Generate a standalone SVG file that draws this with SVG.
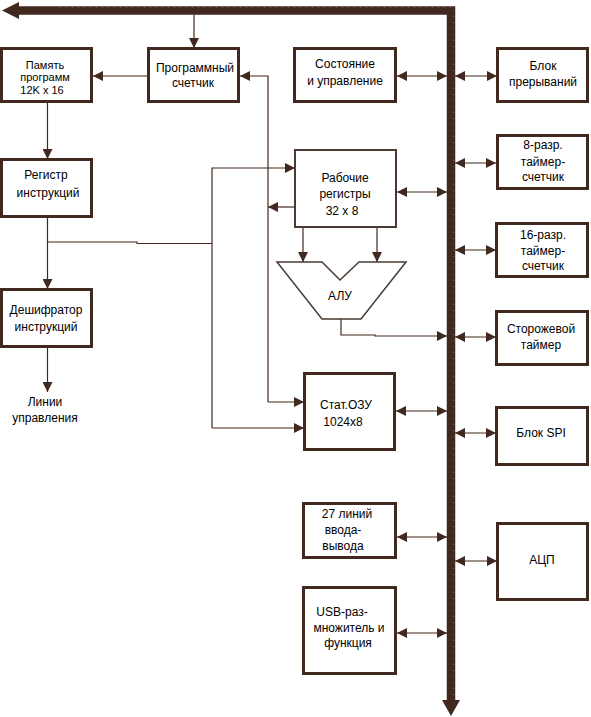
<svg xmlns="http://www.w3.org/2000/svg" width="591" height="717" viewBox="0 0 591 717">
<defs>
<marker id="ah" viewBox="0 0 10 10" refX="10" refY="5" markerWidth="10" markerHeight="10" markerUnits="userSpaceOnUse" orient="auto-start-reverse">
<path d="M0,0 L10,5 L0,10 z" fill="#42291f"/>
</marker>
<style>
.b{fill:#fff;stroke:#42291f;stroke-width:3}
.b2{fill:#fff;stroke:#4a3a33;stroke-width:2}
.t{font-family:"Liberation Sans",Arial,sans-serif;font-size:12px;fill:#000;text-anchor:middle}
.s{font-size:11px}
.c{fill:none;stroke:#42291f;stroke-width:1.2}
.a{marker-end:url(#ah)}
.d{marker-start:url(#ah);marker-end:url(#ah)}
</style>
</defs>
<rect width="591" height="717" fill="#fff"/>
<g id="bus">
<path d="M18,10.5 H451 V700" fill="none" stroke="#42291f" stroke-width="8.5"/>
<path d="M60,7.5 H453.5 V700" fill="none" stroke="#6e5a50" stroke-width="1" stroke-dasharray="1 5"/>
<path d="M2,10.5 L19,2 L19,19 z" fill="#42291f"/>
<path d="M442,700 L460,700 L451,716 z" fill="#42291f"/>
</g>
<g id="connectors">
<line class="c a" x1="194" y1="15" x2="194" y2="48"/>
<line class="c a" x1="148" y1="76" x2="93" y2="76"/>
<line class="c a" x1="47.5" y1="102" x2="47.5" y2="159"/>
<line class="c a" x1="47.5" y1="217" x2="47.5" y2="289"/>
<line class="c a" x1="47.5" y1="347" x2="47.5" y2="392"/>
<polyline class="c" points="47.5,242 137,242 137,243.5 212,243.5"/>
<polyline class="c a" points="212,428 212,168 295,168"/>
<line class="c a" x1="212" y1="428" x2="304" y2="428"/>
<polyline class="c a" points="268,402 268,76 240,76"/>
<line class="c a" x1="268" y1="402" x2="304" y2="402"/>
<line class="c a" x1="295" y1="207" x2="268" y2="207"/>
<line class="c a" x1="303" y1="227" x2="303" y2="262"/>
<line class="c a" x1="377" y1="227" x2="377" y2="262"/>
<polyline class="c a" points="341,319 341,335 375,335 375,336 447,336"/>
<line class="c d" x1="397" y1="76" x2="447" y2="76"/>
<line class="c d" x1="455" y1="76" x2="497" y2="76"/>
<line class="c d" x1="397" y1="192" x2="447" y2="192"/>
<line class="c d" x1="455" y1="163" x2="496" y2="163"/>
<line class="c d" x1="455" y1="250" x2="496" y2="250"/>
<line class="c d" x1="455" y1="337" x2="496" y2="337"/>
<line class="c d" x1="396" y1="411" x2="447" y2="411"/>
<line class="c d" x1="455" y1="433" x2="496" y2="433"/>
<line class="c d" x1="397" y1="537" x2="447" y2="537"/>
<line class="c d" x1="455" y1="561" x2="497" y2="561"/>
<line class="c d" x1="397" y1="633" x2="447" y2="633"/>
</g>
<g id="mem">
<rect class="b" x="1.5" y="48.5" width="90" height="53"/>
<text class="t s" x="45" y="68.5">Память</text>
<text class="t s" x="45" y="81">программ</text>
<text class="t s" x="42" y="93.5">12K x 16</text>
</g>
<g id="pc">
<rect class="b" x="148.5" y="48.5" width="90" height="53"/>
<text class="t" x="195" y="72">Программный</text>
<text class="t" x="193" y="87">счетчик</text>
</g>
<g id="ir">
<rect class="b" x="1.5" y="159.5" width="90" height="57"/>
<text class="t" x="46" y="179">Регистр</text>
<text class="t" x="48" y="197">инструкций</text>
</g>
<g id="dec">
<rect class="b" x="1.5" y="289.5" width="90" height="57"/>
<text class="t" x="46" y="314">Дешифратор</text>
<text class="t" x="46" y="331">инструкций</text>
</g>
<g id="lines">
<text class="t" x="45" y="406">Линии</text>
<text class="t" x="45" y="422">управления</text>
</g>
<g id="state">
<rect class="b" x="294.5" y="48.5" width="101" height="53"/>
<text class="t" x="345" y="68">Состояние</text>
<text class="t" x="345" y="85">и управление</text>
</g>
<g id="irq">
<rect class="b" x="497.5" y="48.5" width="90" height="53"/>
<text class="t" x="543" y="70">Блок</text>
<text class="t" x="543" y="86">прерываний</text>
</g>
<g id="regs">
<rect class="b2" x="295" y="150" width="101" height="77"/>
<text class="t" x="345" y="182">Рабочие</text>
<text class="t" x="345" y="198">регистры</text>
<text class="t" x="342" y="215">32 x 8</text>
</g>
<g id="t8">
<rect class="b" x="497.5" y="135.5" width="90" height="53"/>
<text class="t" x="543" y="149">8-разр.</text>
<text class="t" x="543" y="166">таймер-</text>
<text class="t" x="543" y="181">счетчик</text>
</g>
<g id="t16">
<rect class="b" x="496.5" y="223.5" width="91" height="53"/>
<text class="t" x="543" y="239">16-разр.</text>
<text class="t" x="543" y="255">таймер-</text>
<text class="t" x="543" y="270">счетчик</text>
</g>
<g id="alu">
<polygon points="277,262 322,262 340,280 359,262 406,262 361,319 322,319" fill="#fff" stroke="#4a3a33" stroke-width="1.5"/>
<text class="t" x="340" y="300">АЛУ</text>
</g>
<g id="wdt">
<rect class="b" x="496.5" y="311.5" width="91" height="53"/>
<text class="t" x="541" y="333">Сторожевой</text>
<text class="t" x="541" y="349">таймер</text>
</g>
<g id="ram">
<rect class="b" x="304.5" y="373.5" width="90" height="76"/>
<text class="t" x="346" y="409">Стат.ОЗУ</text>
<text class="t" x="343" y="426">1024x8</text>
</g>
<g id="spi">
<rect class="b" x="496.5" y="407.5" width="91" height="57"/>
<text class="t" x="541" y="437">Блок SPI</text>
</g>
<g id="io">
<rect class="b" x="303.5" y="503.5" width="92" height="54"/>
<text class="t" x="347" y="518">27 линий</text>
<text class="t" x="343" y="534">ввода-</text>
<text class="t" x="343" y="550">вывода</text>
</g>
<g id="adc">
<rect class="b" x="497.5" y="523.5" width="90" height="76"/>
<text class="t" x="542" y="564">АЦП</text>
</g>
<g id="usb">
<rect class="b" x="303.5" y="587.5" width="92" height="86"/>
<text class="t" x="342" y="616">USB-раз-</text>
<text class="t" x="349" y="632">множитель и</text>
<text class="t" x="348" y="647">функция</text>
</g>
</svg>
